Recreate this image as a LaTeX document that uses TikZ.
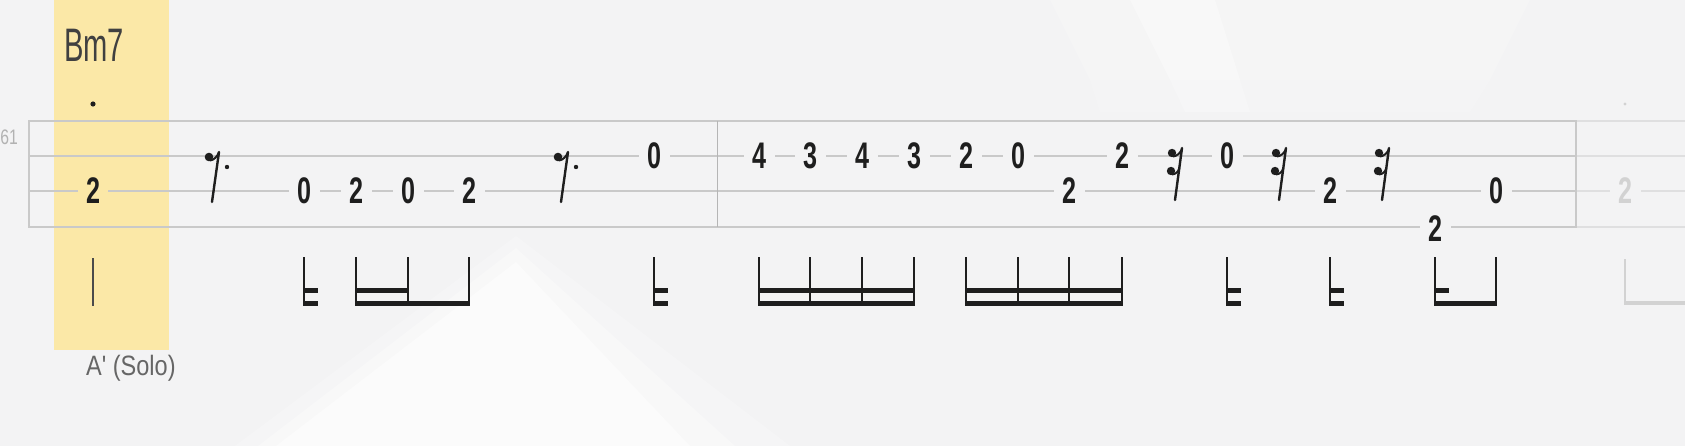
\documentclass[tikz,border=0pt]{standalone}
\usepackage{fontspec}
\setmainfont{Liberation Sans}
\definecolor{bg}{HTML}{F3F3F4}
\definecolor{hl}{HTML}{FBE8A7}
\definecolor{staff}{HTML}{C9C9C9}
\definecolor{ink}{HTML}{1E1E1E}
\definecolor{faded}{HTML}{D2D2D2}
\tikzset{
  staffline/.style={draw=staff, line width=1.4pt},
  fret/.style={font=\fontsize{37}{37}\selectfont\bfseries, text=ink, fill=bg, inner xsep=8.5pt, inner ysep=1pt},
  stemline/.style={draw=ink, line width=2pt},
  beam/.style={draw=ink, line width=5pt, shorten <=-1pt, shorten >=-1pt},
  restline/.style={draw=ink, line width=2pt},
  glow/.style={fill=white, opacity=#1},
}
\newcommand\fretnum[1]{\scalebox{0.68}[1]{#1}}
\newcommand\tabstem[1]{\draw[stemline] (#1.center |- 0,257) -- (#1.center |- 0,305);}
\newcommand\tabflag[1]{\draw[beam] (#1.center |- 0,290) -- ++(13,0); \draw[beam] (#1.center |- 0,303) -- ++(13,0);}
\newcommand\eighthrestat[1]{%
  \begin{scope}[shift={(#1,0)}]
    \fill[ink] (0,157) circle (4.3);
    \draw[restline] (1,160.5) .. controls (5,160) and (8,157) .. (10,152);
    \draw[restline, line width=2.4pt, line cap=round] (10,152) -- (3,202);
    \fill[ink] (18,167) circle (2.2);
  \end{scope}}
\newcommand\sixteenthrestat[1]{%
  \begin{scope}[shift={(#1,0)}]
    \fill[ink] (0,153) circle (4.2);
    \draw[restline] (1,156.5) .. controls (5,156) and (8,153.5) .. (10,149);
    \fill[ink] (-1,171) circle (4.2);
    \draw[restline] (0,174.5) .. controls (4,174) and (6,172) .. (7.4,168);
    \draw[restline, line width=2.4pt, line cap=round] (10,148) -- (3,200);
  \end{scope}}
\begin{document}
\begin{tikzpicture}[x=1pt,y=-1pt]
\useasboundingbox (0,0) rectangle (1685,446);
% background
\fill[bg] (0,0) rectangle (1685,446);
\fill[glow=0.22] (235,446) -- (516,236) -- (790,446) -- cycle;
\fill[glow=0.3] (258,446) -- (516,248) -- (735,446) -- cycle;
\fill[glow=0.45] (276,446) -- (516,262) -- (690,446) -- cycle;
\fill[glow=0.18] (1050,0) -- (1530,0) -- (1490,80) -- (1090,80) -- cycle;
\fill[glow=0.12] (1090,80) -- (1490,80) -- (1470,112) -- (1100,112) -- cycle;
\fill[glow=0.35] (1130,0) -- (1215,0) -- (1240,80) -- (1170,80) -- cycle;
\fill[glow=0.2] (1170,80) -- (1240,80) -- (1250,112) -- (1185,112) -- cycle;
% highlight
\fill[hl] (54,0) rectangle (169,350);
% staff
\draw[staffline] (29,121) rectangle (1576,227);
\draw[staffline] (29,156) -- (1576,156);
\draw[staffline] (29,191) -- (1576,191);
\draw[draw=staff!90!black, line width=1pt] (717,121) -- (717,227);
\foreach \yy in {121,156,191,227} \draw[draw=faded!60!bg, line width=1.2pt] (1577,\yy) -- (1685,\yy);
% texts
\node[anchor=base west, inner sep=0, text=ink!85, font=\fontsize{47}{47}\selectfont] (chord) at (64,62) {\scalebox{0.62}[1]{Bm7}};
\node[anchor=base west, inner sep=0, text=black!60, font=\fontsize{28}{28}\selectfont] (section) at (86,375) {\scalebox{0.84}[1]{A\textquotesingle\ (Solo)}};
\node[anchor=base east, inner sep=0, text=black!30, font=\fontsize{21}{21}\selectfont] (barnum) at (18,145) {\scalebox{0.75}[1]{61}};
\fill[ink] (93,104) circle (2.6);
\fill[faded] (1625,104) circle (1.6);
% fret numbers
\node[fret, fill=hl] (m0) at (93,191) {\fretnum{2}};
\node[fret] (a1) at (304,191) {\fretnum{0}};
\node[fret] (a2) at (356,191) {\fretnum{2}};
\node[fret] (a3) at (408,191) {\fretnum{0}};
\node[fret] (a4) at (469,191) {\fretnum{2}};
\node[fret] (a5) at (654,156) {\fretnum{0}};
\node[fret] (b1) at (759,156) {\fretnum{4}};
\node[fret] (b2) at (810,156) {\fretnum{3}};
\node[fret] (b3) at (862,156) {\fretnum{4}};
\node[fret] (b4) at (914,156) {\fretnum{3}};
\node[fret] (b5) at (966,156) {\fretnum{2}};
\node[fret] (b6) at (1018,156) {\fretnum{0}};
\node[fret] (b7) at (1069,191) {\fretnum{2}};
\node[fret] (b8) at (1122,156) {\fretnum{2}};
\node[fret] (b9) at (1227,156) {\fretnum{0}};
\node[fret] (b10) at (1330,191) {\fretnum{2}};
\node[fret] (b11) at (1435,229) {\fretnum{2}};
\node[fret] (b12) at (1496,191) {\fretnum{0}};
\node[fret, text=faded] (f1) at (1625,191) {\fretnum{2}};
% rests
\eighthrestat{209}
\eighthrestat{558}
\sixteenthrestat{1172}
\sixteenthrestat{1276}
\sixteenthrestat{1379}
% stems
\draw[draw=ink!80, line width=1.8pt] (m0.center |- 0,258) -- (m0.center |- 0,306);
\foreach \n in {a1,a2,a3,a4,a5,b1,b2,b3,b4,b5,b6,b7,b8,b9,b10,b11,b12} {\tabstem{\n}}
% flags and beams
\tabflag{a1}
\tabflag{a5}
\tabflag{b9}
\tabflag{b10}
\draw[beam] (a2.center |- 0,290) -- (a3.center |- 0,290);
\draw[beam] (a2.center |- 0,303) -- (a4.center |- 0,303);
\draw[beam] (b1.center |- 0,290) -- (b4.center |- 0,290);
\draw[beam] (b1.center |- 0,303) -- (b4.center |- 0,303);
\draw[beam] (b5.center |- 0,290) -- (b8.center |- 0,290);
\draw[beam] (b5.center |- 0,303) -- (b8.center |- 0,303);
\draw[beam] (b11.center |- 0,290) -- ++(13,0);
\draw[beam] (b11.center |- 0,303) -- (b12.center |- 0,303);
% faded next measure
\draw[draw=faded, line width=2pt] (f1.center |- 0,259) -- (f1.center |- 0,305);
\draw[draw=faded, line width=4.5pt, shorten <=-1pt] (f1.center |- 0,303) -- (1685,303);
\end{tikzpicture}
\end{document}
